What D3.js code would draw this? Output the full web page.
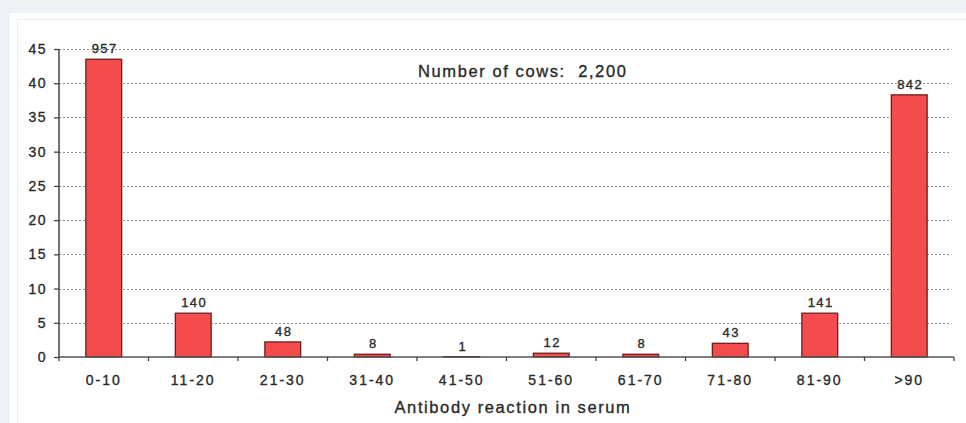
<!DOCTYPE html>
<html><head><meta charset="utf-8">
<script src="https://cdn.jsdelivr.net/npm/d3@7"></script>
<style>
html,body{margin:0;padding:0;background:#eef1f6;}
svg{display:block;}
text{font-family:"Liberation Sans",Arial,sans-serif;fill:#2b2b2b;white-space:pre;}
</style></head><body>
<svg id="c" width="966" height="423"></svg>
<script>
const categories = ["0-10","11-20","21-30","31-40","41-50","51-60","61-70","71-80","81-90",">90"];
const percentValues = [43.5, 6.4, 2.2, 0.4, 0.05, 0.55, 0.4, 2.0, 6.4, 38.3];
const countLabels = ["957","140","48","8","1","12","8","43","141","842"];
const yTicks = [0,5,10,15,20,25,30,35,40,45];
const annotation = "Number of cows:  2,200";
const xTitle = "Antibody reaction in serum";

const svg = d3.select("#c");
svg.append("rect").attr("x",10).attr("y",13).attr("width",956).attr("height",410).attr("fill","#ffffff");
svg.append("line").attr("x1",17).attr("x2",966).attr("y1",19.5).attr("y2",19.5).attr("stroke","#eceef2");
svg.append("line").attr("x1",17.5).attr("x2",17.5).attr("y1",19).attr("y2",423).attr("stroke","#eceef2");

const left = 59, right = 954, y0 = 357, yTop = 49;
const x = d3.scaleBand().domain(categories).range([left,right]).paddingInner(0.6).paddingOuter(0.3);
const xb = d3.scaleBand().domain(categories).range([left,right]);
const y = d3.scaleLinear().domain([0,45]).range([y0,yTop]);

function styleText(sel, size, ls){
  sel.attr("font-size",size).attr("font-family","Liberation Sans, Arial, sans-serif")
     .style("fill","#2a2a2a").style("stroke","#2a2a2a").style("stroke-width",0.35)
     .style("letter-spacing",ls+"px");
}

// gridlines
svg.append("g").selectAll("line").data(yTicks.filter(d=>d>0)).join("line")
  .attr("x1",left).attr("x2",951).attr("y1",d=>Math.round(y(d))+0.5).attr("y2",d=>Math.round(y(d))+0.5)
  .attr("stroke","#8f8f8f").attr("stroke-width",1.2).attr("stroke-dasharray","2,2");

// bars
svg.append("g").selectAll("rect").data(percentValues).join("rect")
  .attr("x",(d,i)=>x(categories[i])).attr("width",x.bandwidth())
  .attr("y",d=>y(d)).attr("height",d=>y0-y(d))
  .attr("fill","#f44c4c").attr("stroke","#6e1e1e").attr("stroke-width",1.3);

// count labels
svg.append("g").selectAll("text").data(percentValues).join("text")
  .attr("x",(d,i)=>x(categories[i])+x.bandwidth()/2+1).attr("y",d=>y(d)-6)
  .attr("text-anchor","middle").text((d,i)=>countLabels[i])
  .call(styleText,13,1.5);

// y axis
const yAxis = svg.append("g").attr("transform",`translate(${left},0)`)
  .call(d3.axisLeft(y).tickValues(yTicks).tickSize(5).tickPadding(7).tickFormat(d3.format("d")));
yAxis.select(".domain").attr("stroke","#444").attr("stroke-width",1.5).attr("d",`M0,${y0}V${yTop}`);
yAxis.selectAll(".tick line").attr("stroke","#444").attr("stroke-width",1.3);
yAxis.selectAll("text").call(styleText,14,1.5);

// x axis
const xAxis = svg.append("g").attr("transform",`translate(0,${y0})`)
  .call(d3.axisBottom(xb).tickSize(0).tickPadding(18));
xAxis.select(".domain").attr("stroke","#555").attr("stroke-width",1.5).attr("d",`M${left},0H${right}`);
xAxis.selectAll("text").call(styleText,14,2);
svg.append("g").selectAll("line").data(d3.range(categories.length+1)).join("line")
  .attr("x1",i=>left+i*xb.step()).attr("x2",i=>left+i*xb.step())
  .attr("y1",y0).attr("y2",y0+4).attr("stroke","#444").attr("stroke-width",1.3);

svg.append("text").attr("x",418).attr("y",77).text(annotation).call(styleText,16.5,1.6);
svg.append("text").attr("x",513).attr("y",413).attr("text-anchor","middle").text(xTitle).call(styleText,16.5,1.6);
</script>
</body></html>
